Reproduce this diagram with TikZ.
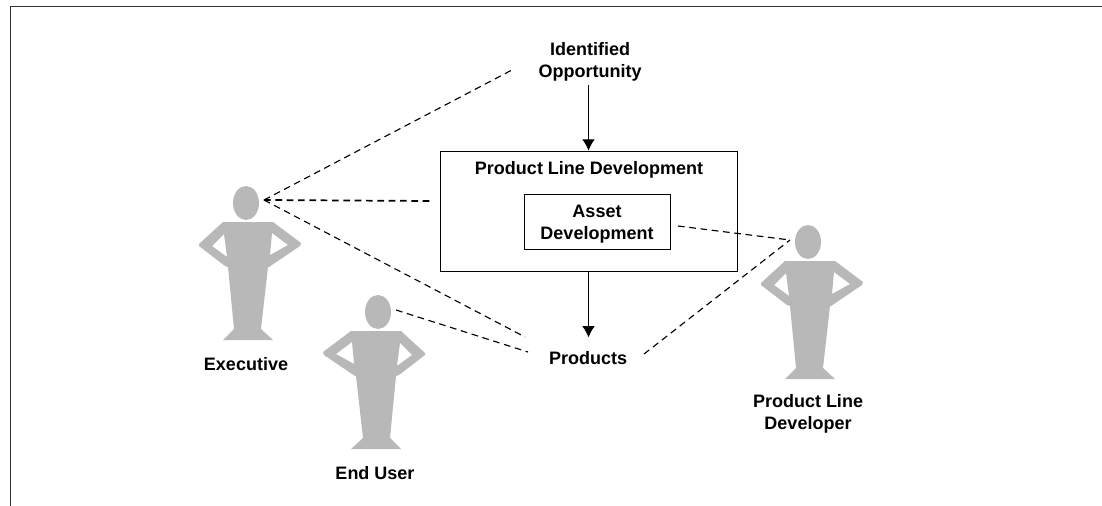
\documentclass[tikz,border=0pt]{standalone}
\usepackage{fontspec}
\setmainfont{Liberation Sans}
\usetikzlibrary{arrows.meta}
\tikzset{
  person/.pic={
    \fill [personfill,even odd rule] (27,19) -- (55,40) -- (54,43) -- (23,64) -- (22,64) -- (15,126) -- (27,137)
      -- (-23,137) -- (-12,126) -- (-18,64) -- (-21,63) -- (-47,43) -- (-47,41) -- (-23,19) -- cycle
      (26,30) -- (42,42) -- (24,52) -- cycle
      (-22,31) -- (-34,43) -- (-19,54) -- cycle;
    \fill [personfill] (0,0) ellipse [x radius=13, y radius=17];
  },
  personfill/.style={fill=black!28},
  txt/.style={font=\bfseries\fontsize{13.5}{16.3}\selectfont, align=center, inner sep=0pt},
  box/.style={draw, line width=0.6pt, inner sep=0pt},
  seen/.style={line width=0.85pt, dash pattern=on 5pt off 3.5pt},
  flow/.style={line width=0.75pt, -{Latex[length=8.5pt, width=9.5pt]}}
}
\begin{document}
\begin{tikzpicture}[line cap=butt,line join=miter, x=0.75pt,y=-0.75pt]
\useasboundingbox (0,0) rectangle (1102,506);
\draw [line width=0.9pt,black!80] (10.5,506) -- (10.5,6.5) -- (1102,6.5);
\pic at (246,203) {person};
\pic [xscale=-1] at (378,312) {person};
\pic at (808,242) {person};
\node [txt] (executive) at (246,364) {Executive};
\node [txt] (enduser) at (375,473) {End User};
\node [txt] (developer) at (808,414) {Product Line\\Developer};
\node [txt] (opportunity) at (590,61.5) {Identified\\Opportunity};
\node [box, minimum width=222.75pt, minimum height=90pt] (pld) at (588.5,211) {};
\node [txt] (pldtitle) at (589,169.5) {Product Line Development};
\node [box, minimum width=109.5pt, minimum height=41.25pt] (asset) at (597,221.5) {};
\node [txt] (assettitle) at (597,224.5) {Asset\\Development};
\node [txt] (products) at (588,358) {Products};
\coordinate (execeye) at (264,200);
\coordinate (usereye) at (396,310);
\coordinate (deveye) at (790,240);
\coordinate (oppend) at (512,70);
\coordinate (pldend) at (430,201);
\coordinate (prodend) at (525,337);
\coordinate (prodenduser) at (528,352);
\coordinate (assetend) at (678,226);
\coordinate (prodright) at (644,354);
\draw [flow] (opportunity.south -| pld.north) ++(0,4) -- (pld.north);
\draw [flow] (pld.south) -- ++(0,66);
\draw [seen] (execeye) -- (oppend);
\draw [seen, line width=1.3pt] (execeye) -- (pldend);
\draw [seen] (execeye) -- (prodend);
\draw [seen] (usereye) -- (prodenduser);
\draw [seen] (assetend) -- (deveye);
\draw [seen] (prodright) -- (deveye);
\end{tikzpicture}
\end{document}
